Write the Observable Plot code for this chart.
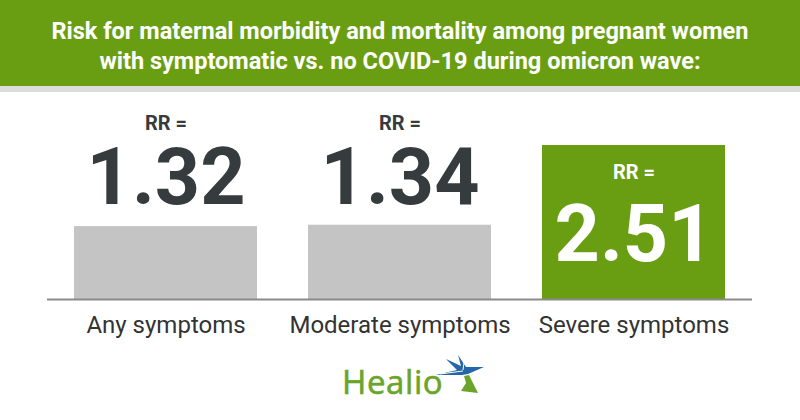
<!DOCTYPE html>
<html>
<head>
<meta charset="utf-8">
<script src="https://cdn.jsdelivr.net/npm/d3@7"></script>
<script src="https://cdn.jsdelivr.net/npm/@observablehq/plot@0.6"></script>
<style>
  html, body { margin: 0; padding: 0; background: #ffffff; }
  body { width: 800px; height: 420px; overflow: hidden; }
  #hdr {
    height: 86px; background: #6a9e12; color: #ffffff;
    font-family: Roboto, sans-serif;
    font-weight: bold; font-size: 23px; line-height: 30px;
    text-align: center; box-sizing: border-box; padding-top: 17px;
    overflow: hidden; white-space: nowrap;
  }
  #hdr span { display: inline-block; transform-origin: 50% 50%; }
  #strip { height: 6px; background: #dcdcdc; }
  #chart svg { display: block; }
  #logo { height: 66px; }
  #logo svg { display: block; }
</style>
</head>
<body>
<div id="hdr"><span id="t1">Risk for maternal morbidity and mortality among pregnant women</span><br><span id="t2">with symptomatic vs. no COVID-19 during omicron wave:</span></div>
<div id="strip"></div>
<div id="chart"></div>
<div id="logo">
  <svg width="800" height="66" viewBox="0 0 800 66">
    <text x="342" y="40" font-family="Open Sans, sans-serif" font-size="33" font-weight="400" fill="#6aa52a" letter-spacing="0.6" stroke="#6aa52a" stroke-width="0.6">Healio</text>
    <path d="M458,1 L466,13 L484,13 L468,20 L462,21 L436,21 L457,16 L446,5 L461,12 Z" fill="#2466a8"/>
    <path d="M463,16 L465,2 M463,17 L440,20" stroke="#ffffff" stroke-width="1" fill="none"/>
    <path d="M464,22 L469,21 L478,39 L461,37 L466,29 Z" fill="#6aa52a"/>
  </svg>
</div>
<script>
const categories = ["Any symptoms", "Moderate symptoms", "Severe symptoms"];
const rrValues = [1.32, 1.34, 2.51];
const rrPrefix = "RR =";

const GREEN = "#6a9e12";
const GRAY = "#c4c4c4";
const DARK = "#363b3d";

const data = categories.map((c, i) => ({category: c, rr: rrValues[i]}));
const yBase = 0.25;
const maxRR = d3.max(rrValues);
const topBar = data.filter(d => d.rr === maxRR);
const otherBars = data.filter(d => d.rr !== maxRR);
const fmt = d3.format(".2f");

const plot = Plot.plot({
  width: 800,
  height: 262,
  marginTop: 53,
  marginBottom: 55,
  marginLeft: 47,
  marginRight: 48,
  x: {domain: categories, paddingInner: 0.22, paddingOuter: 0.113, axis: null},
  y: {domain: [yBase, maxRR], axis: null},
  style: {fontFamily: "Roboto, sans-serif", background: "transparent", overflow: "visible"},
  marks: [
    Plot.barY(otherBars, {x: "category", y1: yBase, y2: "rr", fill: GRAY}),
    Plot.barY(topBar, {x: "category", y1: yBase, y2: "rr", fill: GREEN}),
    Plot.ruleY([yBase], {stroke: "#8a8a8a", strokeWidth: 2}),
    Plot.axisX({tickSize: 0, tickPadding: 16, fontSize: 24, fill: "#333333", label: null}),
    Plot.text(otherBars, {x: "category", text: () => rrPrefix, frameAnchor: "top", lineAnchor: "bottom", dy: -16, fontSize: 20, fontWeight: 700, fill: DARK}),
    Plot.text(otherBars, {x: "category", text: d => fmt(d.rr), frameAnchor: "top", lineAnchor: "bottom", dy: 58, fontSize: 79, fontWeight: 700, fill: DARK}),
    Plot.text(topBar, {x: "category", text: () => rrPrefix, frameAnchor: "top", lineAnchor: "bottom", dy: 33, fontSize: 20, fontWeight: 700, fill: "#ffffff"}),
    Plot.text(topBar, {x: "category", text: d => fmt(d.rr), frameAnchor: "top", lineAnchor: "bottom", dy: 115, fontSize: 79, fontWeight: 700, fill: "#ffffff"})
  ]
});
document.getElementById("chart").appendChild(plot);

// condense the title horizontally to mimic a condensed typeface
const t1 = document.getElementById("t1"), t2 = document.getElementById("t2");
const s = 697 / t1.getBoundingClientRect().width;
t1.style.transform = `scaleX(${s})`;
t2.style.transform = `scaleX(${s})`;
</script>
</body>
</html>
